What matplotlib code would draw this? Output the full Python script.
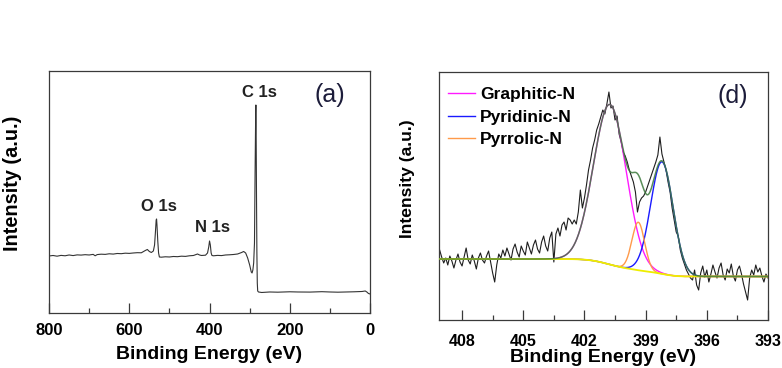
import numpy as np
import matplotlib
matplotlib.use("Agg")
import matplotlib.pyplot as plt
from matplotlib.ticker import MultipleLocator, NullLocator

plt.rcParams['font.family'] = ['Liberation Sans', 'DejaVu Sans']

# ---------------- survey spectrum (a) ----------------
survey_be = [800, 790, 780, 770, 760, 750, 740, 730, 720, 710, 700, 690, 685, 680,
             670, 660, 650, 640, 630, 620, 610, 600, 590, 580, 570, 560, 555, 550,
             545, 540, 537, 535, 533, 532, 531, 529, 527, 525, 520, 510, 500, 490,
             480, 470, 460, 450, 440, 430, 425, 420, 410, 405, 402, 400, 398, 396,
             394, 390, 380, 370, 360, 350, 340, 330, 320, 315, 310, 305, 300, 296,
             294, 292, 290, 288, 286.5, 285, 284.5, 284, 283, 282, 281, 280, 278,
             270, 250, 230, 200, 180, 150, 120, 100, 80, 60, 40, 20, 12, 8, 4, 0]
survey_int = [57.0, 57.5, 56.8, 57.6, 57.2, 58.0, 57.4, 58.1, 57.9, 58.3, 58.0, 58.6,
              57.2, 58.4, 58.8, 58.6, 59.2, 58.9, 59.5, 59.3, 59.8, 59.6, 60.0, 60.3,
              60.2, 62.5, 63.5, 61.5, 60.5, 62.0, 68.0, 80.0, 93.0, 94.0, 88.0, 72.0,
              60.0, 56.0, 55.8, 56.2, 56.0, 56.5, 56.3, 56.8, 56.6, 57.2, 57.5, 59.0,
              58.0, 57.5, 57.8, 60.0, 66.0, 72.0, 68.0, 60.0, 57.5, 57.2, 57.6, 57.4,
              58.0, 58.2, 58.5, 59.0, 60.5, 61.5, 60.0, 55.0, 48.0, 41.0, 40.0, 43.0,
              50.0, 70.0, 140.0, 200.0, 208.0, 190.0, 120.0, 60.0, 30.0, 22.0, 21.0,
              20.5, 21.0, 20.8, 21.2, 21.0, 20.9, 21.3, 21.0, 20.8, 21.0, 21.2, 21.5,
              22.0, 21.0, 19.5, 19.0]
survey_peaks = {"O 1s": (527, 106), "N 1s": (393.5, 85), "C 1s": (275, 220)}

# ---------------- N 1s high-resolution spectrum (d) ----------------
# measured counts, 409.1 eV down to 393.0 eV in 0.1 eV steps
n1s_int = [70, 63, 57, 62, 55, 64, 59, 52, 60, 66, 58, 54, 63, 72, 60, 56, 65, 59, 51,
           62, 67, 60, 57, 64, 69, 58, 47, 38, 55, 66, 62, 70, 64, 72, 66, 60, 71, 76,
           68, 63, 74, 69, 65, 78, 72, 66, 75, 80, 71, 67, 78, 84, 74, 69, 82, 88, 58,
           86, 92, 84, 95, 98, 90, 102, 100, 96, 100, 96, 108, 130, 112, 122, 135,
           150, 160, 172, 180, 190, 196, 203, 210, 206, 216, 228, 212, 214, 200, 204,
           186, 178, 168, 164, 158, 150, 144, 138, 128, 108, 118, 122, 124, 128, 134,
           140, 146, 152, 158, 165, 183, 166, 158, 150, 138, 128, 112, 100, 88, 84,
           70, 62, 56, 50, 46, 42, 40, 50, 35, 30, 47, 54, 43, 50, 38, 46, 55, 48, 42,
           52, 57, 45, 40, 51, 47, 56, 44, 39, 50, 54, 46, 36, 28, 20, 42, 50, 45, 55,
           48, 52, 44, 38, 46, 42]
n1s_start, n1s_step = 409.1, 0.1
n1s_be = n1s_start - n1s_step * np.arange(len(n1s_int))

# fitted components
comp_names = ["Graphitic-N", "Pyridinic-N", "Pyrrolic-N"]
comp_center = [400.75, 398.2, 399.36]
comp_height = [160, 112, 48]
comp_sigma = [0.8, 0.55, 0.31]
comp_color = ["#ff1aff", "#1a1aff", "#ff9a4a"]
bg_high, bg_low = 61.0, 43.5

# ---------------- figure ----------------
fig = plt.figure(figsize=(7.82, 3.68), dpi=100)
ax1 = fig.add_axes([0.0627, 0.1495, 0.4105, 0.6576])
ax2 = fig.add_axes([0.5614, 0.1304, 0.4207, 0.6739])

spine_col = "#3a3a3a"
for ax in (ax1, ax2):
    for s in ax.spines.values():
        s.set_color(spine_col)
        s.set_linewidth(0.9)
    ax.yaxis.set_major_locator(NullLocator())
    ax.tick_params(axis='x', which='both', direction='in', top=False,
                   color=spine_col, width=0.9)
    ax.tick_params(axis='x', which='major', length=7.2)
    ax.tick_params(axis='x', which='minor', length=3.6)

# (a) survey
ax1.plot(survey_be, survey_int, color="#333333", lw=0.8)
ax1.set_xlim(800, 0)
ax1.set_ylim(0, 242)
ax1.xaxis.set_major_locator(MultipleLocator(200))
ax1.xaxis.set_minor_locator(MultipleLocator(100))
ax1.tick_params(axis='x', which='major', labelsize=12, pad=7)
for lab in ax1.get_xticklabels():
    lab.set_fontweight('bold')
for name, (xp, yp) in survey_peaks.items():
    ax1.text(xp, yp, name, ha='center', va='center', fontsize=12,
             fontweight='bold', color="#222222")
ax1.text(0.875, 0.90, "(a)", transform=ax1.transAxes, ha='center', va='center',
         fontsize=18, color="#1c1c3a")
ax1.set_xlabel("Binding Energy (eV)", fontsize=14, fontweight='bold')
ax1.set_ylabel("Intensity (a.u.)", fontsize=14.3, fontweight='bold')
ax1.xaxis.set_label_coords(0.5, -0.138)
ax1.yaxis.set_label_coords(-0.084, 0.535)

# (d) N 1s with Shirley-type background
grid = np.linspace(393.0, 409.13, 800)
comps = [h * np.exp(-(grid - c) ** 2 / (2 * s ** 2))
         for c, h, s in zip(comp_center, comp_height, comp_sigma)]
total = np.sum(comps, axis=0)
area = np.concatenate([[0.0], np.cumsum(0.5 * (total[1:] + total[:-1]) * np.diff(grid))])
shirley = bg_low + (bg_high - bg_low) * area / area[-1]

ax2.plot(n1s_be, n1s_int, color="#1e1e1e", lw=0.8, zorder=2)
for comp, name, col in zip(comps, comp_names, comp_color):
    ax2.plot(grid, shirley + comp, color=col, lw=1.0, label=name, zorder=3)
ax2.plot(grid, shirley, color="#eeee00", lw=1.3, zorder=3)
ax2.plot(grid, shirley + total, color="#3d7a3d", lw=1.1, alpha=0.85, zorder=4)

ax2.set_xlim(409.13, 393.0)
ax2.set_ylim(0, 248)
ax2.xaxis.set_major_locator(MultipleLocator(3))
ax2.xaxis.set_minor_locator(MultipleLocator(1.5))
ax2.tick_params(axis='x', which='major', labelsize=11.5, pad=10)
for lab in ax2.get_xticklabels():
    lab.set_fontweight('bold')
ax2.text(0.894, 0.903, "(d)", transform=ax2.transAxes, ha='center', va='center',
         fontsize=18, color="#1c1c3a")
ax2.set_xlabel("Binding Energy (eV)", fontsize=14, fontweight='bold')
ax2.set_ylabel("Intensity (a.u.)", fontsize=12.6, fontweight='bold')
ax2.xaxis.set_label_coords(0.5, -0.118)
ax2.yaxis.set_label_coords(-0.073, 0.569)
ax2.legend(loc='upper left', bbox_to_anchor=(0.027, 0.94), frameon=False,
           borderpad=0, borderaxespad=0, handlelength=1.55, handletextpad=0.3,
           labelspacing=0.43, prop={'weight': 'bold', 'size': 12.5})

fig.savefig("out.png", dpi=100)
